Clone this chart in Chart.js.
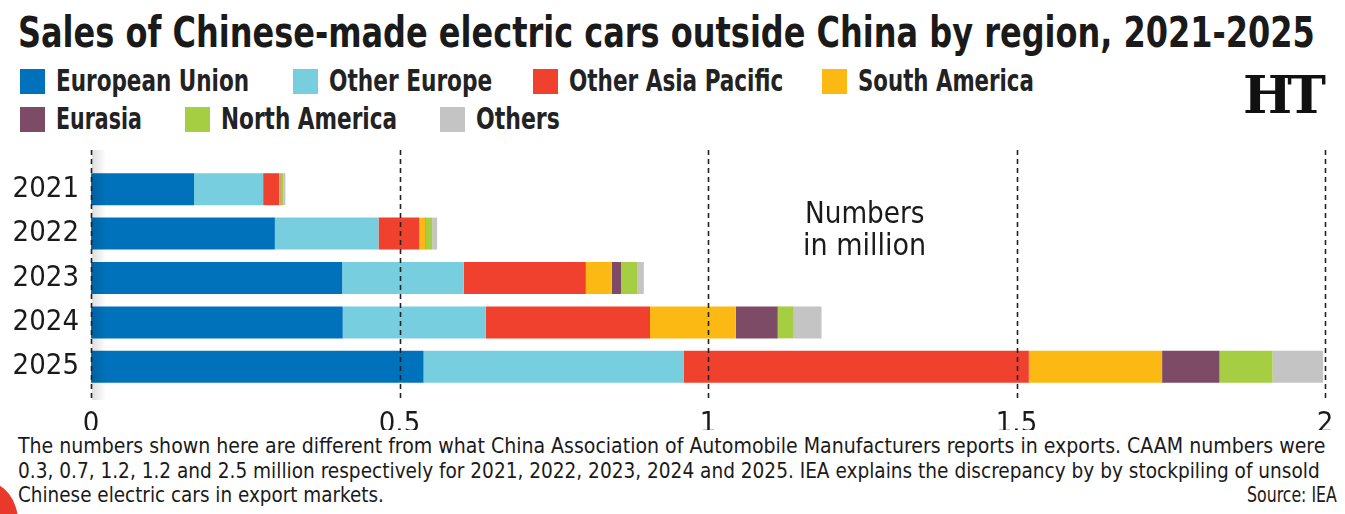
<!DOCTYPE html>
<html>
<head>
<meta charset="utf-8">
<script src="https://cdn.jsdelivr.net/npm/chart.js@4.4.1/dist/chart.umd.min.js"></script>
<style>
  body { margin: 0; background: #fff; }
  #page { position: relative; width: 1345px; height: 514px; overflow: hidden; background: #fff;
    font-family: 'DejaVu Sans Condensed', 'DejaVu Sans', sans-serif; color: #1a1a1a; }
  .fit { position: absolute; white-space: nowrap; transform-origin: 0 0; }
  #title { left: 18px; top: 8px; font-size: 42px; font-weight: bold; }
  .box { position: absolute; width: 25px; height: 25px; }
  .lab { font-size: 30px; line-height: 36px; font-weight: bold; color: #222; }
  #logo { position: absolute; left: 1243px; top: 64px; font-family: 'DejaVu Serif', serif; font-weight: bold; font-size: 52px; letter-spacing: -5px; color: #111; }
  #chartBox { position: absolute; left: 0; top: 140px; width: 1345px; height: 290px; }
  #shade { position: absolute; left: 92px; top: 150px; width: 14px; height: 250px;
    background: linear-gradient(to right, rgba(0,0,0,0.13), rgba(0,0,0,0)); }
  .unit { font-size: 31px; line-height: 32px; }
  .note { font-size: 22px; line-height: 24.5px; }
  #curl { position: absolute; left: -44px; top: 482px; width: 62px; height: 80px; border-radius: 50%; background: #e8392b; }
</style>
</head>
<body>
<div id="page">
  <div id="title" class="fit" data-w="1297">Sales of Chinese-made electric cars outside China by region, 2021-2025</div>
  <div id="legend"></div>
  <div id="logo">HT</div>
  <div id="chartBox"><canvas id="salesChart"></canvas></div>
  <div id="shade"></div>
  <div class="fit unit" style="left:805px; top:196px" data-w="120">Numbers</div>
  <div class="fit unit" style="left:803px; top:228px" data-w="123">in million</div>
  <div class="fit note" style="left:18px; top:434px" data-w="1307">The numbers shown here are different from what China Association of Automobile Manufacturers reports in exports. CAAM numbers were</div>
  <div class="fit note" style="left:18px; top:458.5px" data-w="1302">0.3, 0.7, 1.2, 1.2 and 2.5 million respectively for 2021, 2022, 2023, 2024 and 2025. IEA explains the discrepancy by by stockpiling of unsold</div>
  <div class="fit note" style="left:18px; top:483px" data-w="366">Chinese electric cars in export markets.</div>
  <div class="fit note" style="left:1247px; top:483px" data-w="90">Source: IEA</div>
  <div id="curl"></div>
</div>
<script>
// years on the category axis
const years = ['2021', '2022', '2023', '2024', '2025'];

// sales in million
const europeanUnion = [0.167, 0.298, 0.407, 0.408, 0.539];
const otherEurope = [0.112, 0.168, 0.197, 0.232, 0.422];
const otherAsiaPacific = [0.026, 0.066, 0.198, 0.266, 0.559];
const southAmerica = [0.002, 0.010, 0.042, 0.139, 0.216];
const eurasia = [0.001, 0.001, 0.015, 0.068, 0.093];
const northAmerica = [0.004, 0.010, 0.026, 0.026, 0.086];
const others = [0.003, 0.008, 0.011, 0.045, 0.082];

const seriesNames = ['European Union', 'Other Europe', 'Other Asia Pacific', 'South America', 'Eurasia', 'North America', 'Others'];
const seriesData = [europeanUnion, otherEurope, otherAsiaPacific, southAmerica, eurasia, northAmerica, others];
const seriesColors = ['#0072bb', '#77cedf', '#ef412d', '#fdb913', '#7d4b66', '#a6ce42', '#c4c4c4'];

const xTicks = [0, 0.5, 1, 1.5, 2];

// legend: [box left, box top, text width in the print version]
const legendSpots = [[20, 69, 193], [293, 69, 163], [533, 69, 214], [822, 69, 176], [20, 107, 86], [185, 107, 176], [440, 107, 84]];
const legendEl = document.getElementById('legend');
seriesNames.forEach((name, i) => {
  const [left, top, w] = legendSpots[i];
  const b = document.createElement('div');
  b.className = 'box';
  b.style.left = left + 'px';
  b.style.top = top + 'px';
  b.style.background = seriesColors[i];
  legendEl.appendChild(b);
  const t = document.createElement('div');
  t.className = 'fit lab';
  t.style.left = (left + 36) + 'px';
  t.style.top = (top - 6) + 'px';
  t.dataset.w = w;
  t.textContent = name;
  legendEl.appendChild(t);
});

// squeeze texts to the condensed widths of the print version
document.querySelectorAll('.fit').forEach(el => {
  const w = +el.dataset.w;
  if (w) el.style.transform = 'scaleX(' + (w / el.scrollWidth) + ')';
});

// dashed vertical grid lines drawn on top of the bars
const dashedGrid = {
  id: 'dashedGrid',
  afterDatasetsDraw(chart) {
    const ctx = chart.ctx;
    const x = chart.scales.x;
    const area = chart.chartArea;
    ctx.save();
    ctx.strokeStyle = '#222';
    ctx.lineWidth = 1.6;
    ctx.setLineDash([5, 4]);
    xTicks.forEach(v => {
      const px = Math.round(x.getPixelForValue(v)) + 0.5;
      ctx.beginPath();
      ctx.moveTo(px, area.top - 17);
      ctx.lineTo(px, area.bottom + 11);
      ctx.stroke();
    });
    ctx.restore();
  }
};

const tickFont = { family: "'DejaVu Sans Condensed', 'DejaVu Sans', sans-serif", size: 29 };

const ctx = document.getElementById('salesChart').getContext('2d');
new Chart(ctx, {
  type: 'bar',
  data: {
    labels: years,
    datasets: seriesNames.map((name, i) => ({
      label: name,
      data: seriesData[i],
      backgroundColor: seriesColors[i],
      borderWidth: 0,
      barPercentage: 0.72,
      categoryPercentage: 1
    }))
  },
  options: {
    indexAxis: 'y',
    responsive: true,
    maintainAspectRatio: false,
    animation: false,
    layout: { padding: { top: 27, right: 20, left: 0, bottom: 0 } },
    scales: {
      x: {
        stacked: true,
        min: 0,
        max: 2,
        afterFit: (scale) => { scale.height = 41; },
        grid: { display: false },
        border: { display: false },
        ticks: {
          stepSize: 0.5,
          padding: 10,
          color: '#1a1a1a',
          font: tickFont,
          callback: (v) => String(v)
        }
      },
      y: {
        stacked: true,
        afterFit: (scale) => { scale.width = 91; },
        grid: { display: false },
        border: { display: false },
        ticks: {
          padding: 4,
          color: '#1a1a1a',
          font: tickFont
        }
      }
    },
    plugins: {
      legend: { display: false },
      tooltip: { enabled: false }
    }
  },
  plugins: [dashedGrid]
});
</script>
</body>
</html>
